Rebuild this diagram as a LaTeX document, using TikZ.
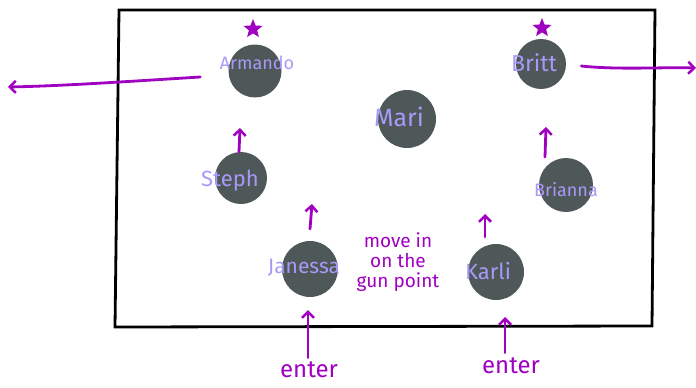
\documentclass[tikz,border=0pt]{standalone}
\usepackage{fontspec}
\setmainfont{Fira Sans}
\usetikzlibrary{arrows.meta,shapes.geometric}
\definecolor{pplarrow}{HTML}{A000C0}
\definecolor{lav}{HTML}{A898F8}
\definecolor{stone}{HTML}{4F5858}
\tikzset{
  person/.style={circle,fill=stone,minimum size=#1,inner sep=0pt},
  person/.default=54pt,
  nm/.style={text=lav,font=\fontsize{18}{18}\selectfont,inner sep=0pt},
  mv/.style={-{Straight Barb[length=6pt,width=12pt,line width=2.5pt]},line width=2.8pt,pplarrow,line cap=round},
  note/.style={text=pplarrow,font=\fontsize{19}{20}\selectfont,align=center,inner sep=0pt},
  starmark/.style={star,star points=5,star point ratio=2.3,fill=pplarrow,minimum size=20pt,inner sep=0pt}
}
\begin{document}
\begin{tikzpicture}[x=1pt,y=-1pt]
\useasboundingbox (0,0) rectangle (696,388);
% stage
\draw[line width=2.8pt,line join=miter] (119,10) -- (655,10) -- (652,326) -- (115,327) -- cycle;
% people
\node[person=53pt] (armando) at (255,71) {};
\node[person=58pt] (mari) at (407,119) {};
\node[person=52pt] (steph) at (241,178) {};
\node[person=56pt] (janessa) at (310,269) {};
\node[person=56pt] (karli) at (496,272) {};
\node[person=50pt] (britt) at (541,64) {};
\node[person=54pt] (brianna) at (566,185) {};
% names
\node[nm] (tA) at (257,63) {Armando};
\node[nm,font=\fontsize{25}{25}\selectfont] (tM) at (399,117) {Mari};
\node[nm,font=\fontsize{22}{22}\selectfont] (tS) at (230,181) {Steph};
\node[nm,font=\fontsize{21}{21}\selectfont] (tJ) at (304,268) {Janessa};
\node[nm,font=\fontsize{22}{22}\selectfont] (tK) at (488,271) {Karli};
\node[nm,font=\fontsize{23}{23}\selectfont] (tB) at (534,63) {Britt};
\node[nm,font=\fontsize{18}{18}\selectfont] (tBr) at (566,190) {Brianna};
% stars
\node[starmark] (sA) at (253,29) {};
\node[starmark] (sB) at (542,28) {};
% exits
\coordinate (exitL) at (8,87);
\coordinate (exitR) at (696,68);
\draw[mv] (armando.west) ++(-28,6) .. controls (120,82) and (60,86) .. (exitL);
\draw[mv] (britt.east) ++(15,2) .. controls (620,70) and (660,67) .. (exitR);
% small moves
\coordinate (s1) at (239,152); \coordinate (s2) at (240,128);
\draw[mv] (s1) -- (s2);
\coordinate (j1) at (310,229); \coordinate (j2) at (312,204);
\draw[mv] (j1) -- (j2);
\coordinate (k1) at (485,237); \coordinate (k2) at (485,214);
\draw[mv] (k1) -- (k2);
\coordinate (b1) at (545,157); \coordinate (b2) at (546,127);
\draw[mv] (b1) -- (b2);
% enters
\node[note,font=\fontsize{24}{24}\selectfont] (e1) at (309,370) {enter};
\node[note,font=\fontsize{24}{24}\selectfont] (e2) at (511,366) {enter};
\coordinate (e1t) at (308,310);
\coordinate (e2t) at (505,317);
\draw[mv] (e1.north -| e1t) ++(0,-4) -- (e1t);
\draw[mv] (e2.north -| e2t) ++(0,-5) -- (e2t);
% note
\node[note] (nt) at (398,262) {move in\\on the\\gun point};
\end{tikzpicture}
\end{document}
